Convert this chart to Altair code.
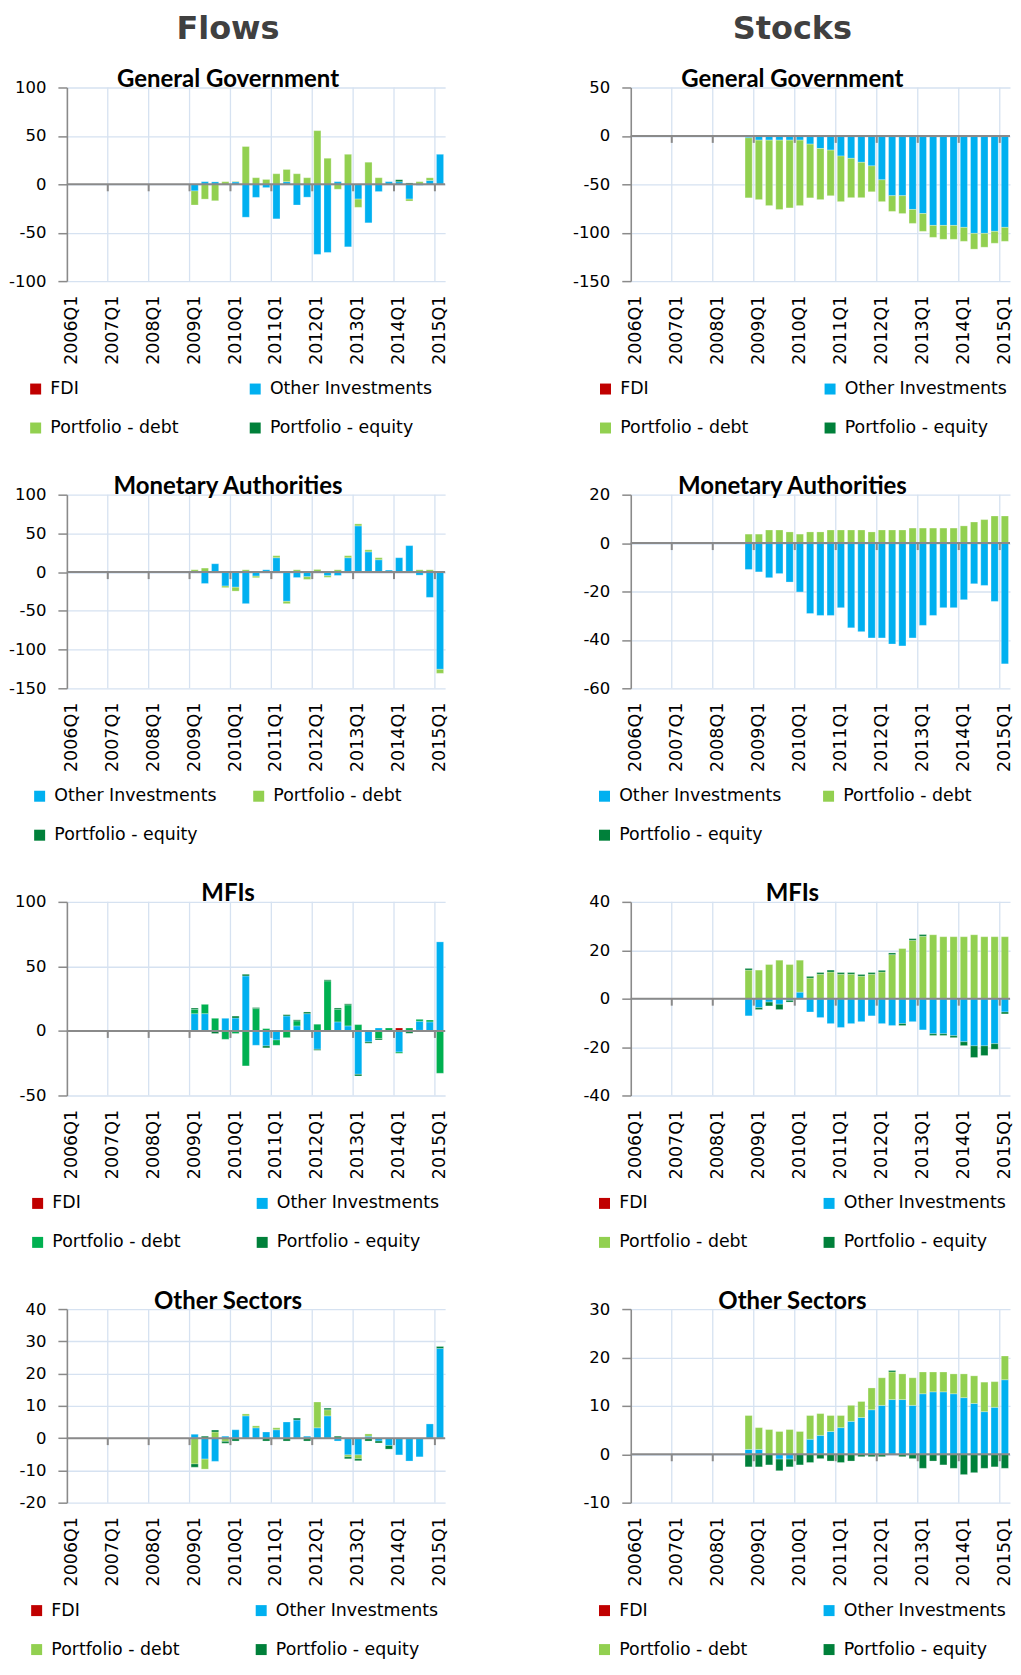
import altair as alt
import pandas as pd

YEARS = [2006, 2007, 2008, 2009, 2010, 2011, 2012, 2013, 2014, 2015]
QUARTERS = [f"{y}Q{q}" for y in YEARS for q in (1, 2, 3, 4)][:37]
YEAR_TICKS = [f"{y}Q1" for y in YEARS]
FLOW_Q = QUARTERS[12:]   # 2009Q1 .. 2015Q1
STOCK_Q = QUARTERS[11:]  # 2008Q4 .. 2015Q1

SERIES = ["FDI", "Other Investments", "Portfolio - debt", "Portfolio - equity"]

# ---------------- Flows ----------------
fl_gg_oi = [-6.8, 2.7, 2.5, 0, 2.5, -34, -13.5, -3.4, -35.7, 2.7, -21.4, -13.3, -72.4, -70.4, 2.7, -64.6, -15.3, -39.8, -7.5, 2.7, 2.7, -15.3, -1, 4, 31]
fl_gg_pd = [-14.6, -15.3, -17, 2.7, 0.5, 39, 6.8, 5, 10.9, 12.6, 10.9, 6.8, 55.4, 26.9, -5.1, 31, -8.5, 22.8, 6.8, 0, 0, -2, 2.7, 2.7, 0]
fl_gg_pe = [0, 0, 0, 0, 0, 0, 0, 0, 0, 0, 0, 0, 0, 0, 0, 0, 0, 0, 0, 0, 2, 1.4, 0, 0, 0]

fl_ma_oi = [0, -14.7, 10.8, -18, -19.5, -40.7, -5.2, 3, 18.6, -37.7, -7, -6, 0, -4.7, -4.3, 18.6, 59.7, 26.2, 16, 2.6, 18.6, 34.2, -3.9, -32.6, -125.5]
fl_ma_pd = [3, 5.2, 0, -2, -5, 3, -2, 0, 2.6, -3, 3, -3.4, 3.4, -2, 3, 2.6, 2.6, 2.6, 2.6, 0, 0, 0, 3, 3, -5.2]

fl_mfi_fdi = [0, 0, 0, 0, 0, 0, 0, 0, 0, 0, 0, 0, 0, 0, 0, 0, 0, 0, 0, 0, 2.3, 0, 0.5, 0, 0]
fl_mfi_oi = [13.4, 13.4, 0, 9.8, 10, 42.6, -11.1, -11.6, -7, 11.6, 3.9, 13.4, -14.2, 0, 7, 3.9, -33.6, -8.5, 2.3, 0, -16.3, 0, 7, 7, 69]
fl_mfi_pd = [3.4, 7.2, 9.8, -6.5, -2, -27.1, 17.3, 1.8, -4.1, -5.2, 3.9, 0, 5.2, 38.8, 9.8, 16.3, 4.9, 0, -6, 2.3, -1, 2.3, 1.5, 1.5, -32.8]
fl_mfi_pe = [1, 0, -2, 0, 1.5, 1.3, 0.8, -1.5, 0, 1, 0.8, 1.3, -0.8, 0.8, 1, 0.8, -1.3, -1, -1, 0, 0, -1.8, 0, 0, 0]

fl_os_oi = [1.2, -6.5, -7.2, 0.6, 2.6, 6.9, 3.2, 1.9, 2.6, 5, 5.6, 0.6, 3.2, 6.9, -0.9, -5.2, -5.2, 0.6, -0.9, -2.3, -5.2, -7.1, -5.8, 4.4, 27.8]
fl_os_pd = [-8, -3.1, 1.9, -1, 0, 0.6, 0.6, 0, 0.6, 0, 0, 0, 8, 1.9, 0, -0.6, -1.2, 0.7, 0, 0, 0, 0, 0, 0, 0]
fl_os_pe = [-1, 0.6, 0.6, -0.6, -0.9, 0, 0, -0.9, 0, -0.9, 0.6, -0.9, 0, 0.5, 0.6, -0.6, -0.6, -0.9, -0.6, -1.1, 0, 0, 0, 0, 0.6]

# ---------------- Stocks ----------------
st_gg_oi = [-2, -4.4, -4.4, -4.4, -4.4, -4.4, -8.5, -13, -14.7, -20.8, -23.2, -27.3, -31, -45.4, -61.8, -61.8, -76, -80.2, -92.5, -92.5, -92.5, -94.5, -100.7, -100.7, -98.6, -94.5]
st_gg_pd = [-62, -61.4, -67.6, -71.6, -70, -67.6, -55.5, -52.8, -47.1, -47.1, -40.6, -36.5, -26.7, -22.5, -16.2, -18.4, -14.4, -18.4, -12.3, -14.3, -14.3, -14.4, -16.3, -14.3, -12.3, -14.4]
st_gg_pe = [0, 0, 0, 0, 0, 0, 0, 0, 0, 0, 0, 0, 0, 0, 0, 0, 0, 0, 0, 0, 0.5, 0, 0, 0, 0, 0.5]

st_ma_oi = [-10.9, -11.9, -14.3, -12.6, -16.1, -20.2, -29.1, -29.9, -29.9, -26.7, -35, -36.6, -39.2, -39.2, -41.7, -42.5, -39.2, -34, -29.9, -26.7, -26.7, -23.4, -16.8, -17.5, -24.1, -49.9]
st_ma_pd = [3.7, 3.7, 5.4, 5.4, 4.6, 3.7, 4.6, 4.6, 5.4, 5.4, 5.4, 5.4, 4.6, 5.4, 5.4, 5.4, 6.2, 6.2, 6.2, 6.2, 6.2, 7.1, 8.7, 9.7, 11.2, 11.2]

st_mfi_oi = [-7.1, -3.7, -1.4, -2.3, -0.7, 2.7, -5.5, -7.8, -10.3, -11.9, -10.3, -9.5, -7.1, -10.3, -11.1, -10.3, -9.5, -12.9, -14.5, -14.5, -15.3, -17.8, -19.5, -19.5, -18.6, -5.5]
st_mfi_pd = [11.8, 11.8, 14.1, 15.9, 14.1, 13.2, 8.5, 10.1, 11, 10.1, 10.1, 9.3, 10.1, 11, 18.2, 20.7, 24.1, 25.8, 26.4, 25.6, 25.6, 25.6, 26.4, 25.6, 25.6, 25.6]
st_mfi_pe = [0.7, -0.8, -1.6, -2.2, -0.7, 0, 0.7, 0.7, 0.8, 0.7, 0.7, 0.7, 0.7, 0.7, 0.7, -0.8, 0.7, 0.7, -0.7, -0.7, -0.8, -1.6, -4.8, -4, -2.3, -0.8]

st_os_oi = [1, 1, 0, -1, -1, 0, 3.1, 3.9, 4.7, 5.5, 6.8, 7.6, 9.2, 10.1, 11.3, 11.3, 10.1, 12.5, 12.9, 12.9, 12.5, 11.7, 10.5, 8.8, 9.7, 15.4]
st_os_pd = [7, 4.5, 5.1, 4.7, 5.1, 4.7, 4.9, 4.5, 3.3, 2.5, 3.3, 3.3, 4.5, 5.7, 5.7, 5.3, 5.7, 4.5, 4.1, 4.1, 4.1, 4.9, 5.7, 6.1, 5.3, 4.9]
st_os_pe = [-2.6, -2.6, -2.2, -2.4, -1.6, -2.2, -1.7, -0.9, -1.4, -1.7, -1.4, -0.5, -0.5, -0.5, 0.3, -0.5, -0.9, -2.9, -1.4, -2.2, -2.9, -4.2, -3.8, -2.9, -2.6, -2.9]

# y tick values per panel
Y_FL_GG = [-100, -50, 0, 50, 100]
Y_FL_MA = [-150, -100, -50, 0, 50, 100]
Y_FL_MFI = [-50, 0, 50, 100]
Y_FL_OS = [-20, -10, 0, 10, 20, 30, 40]
Y_ST_GG = [-150, -100, -50, 0, 50]
Y_ST_MA = [-60, -40, -20, 0, 20]
Y_ST_MFI = [-40, -20, 0, 20, 40]
Y_ST_OS = [-10, 0, 10, 20, 30]

C_FDI = "#C00000"
C_OI = "#00B0F0"
C_PD = "#92D050"
C_PD2 = "#00B050"
C_PE = "#00803A"
GRID = "#D6E2F1"
AX = "#8A8A8A"
FONT = "DejaVu Sans"
H = 194


def panel(title, quarters, data, items, colors, yticks, width, legend_x, col_pad):
    rows = []
    for i, name in enumerate(SERIES):
        if name not in data:
            continue
        for q, v in zip(quarters, data[name]):
            if v != 0:
                rows.append({"q": q, "series": name, "v": v, "o": i})
    df = pd.DataFrame(rows)
    years_df = pd.DataFrame({"q": YEAR_TICKS[1:]})
    zero_df = pd.DataFrame({"z": [0]})

    xscale = alt.Scale(domain=QUARTERS, paddingInner=0, paddingOuter=0)
    xaxis = alt.Axis(values=YEAR_TICKS, grid=False, ticks=False, domain=False,
                     labelAngle=270, labelFont=FONT, labelFontSize=17.5,
                     labelColor="#000000", labelPadding=14, labelOverlap=False,
                     title=None)
    yscale = alt.Scale(domain=[yticks[0], yticks[-1]], nice=False, zero=False)
    yaxis = alt.Axis(values=yticks, tickCount=20, grid=True, gridColor=GRID, gridWidth=1.3,
                     domainColor=AX, domainWidth=1.6, tickColor=AX, tickSize=9,
                     tickWidth=1.5, labelFont=FONT, labelFontSize=16.5,
                     labelColor="#000000", labelPadding=12, labelOverlap=False,
                     labelExpr="toString(datum.value)",
                     title=None, minExtent=59, maxExtent=59)

    x_band = alt.X("q:N", scale=xscale, axis=xaxis)
    x_edge = alt.X("q:N", scale=xscale, axis=xaxis, bandPosition=0)

    vgrid = alt.Chart(years_df).mark_rule(color=GRID, strokeWidth=1.3).encode(x=x_edge)
    bars = alt.Chart(df).mark_bar(
        width=alt.RelativeBandSize(0.7), stroke="white", strokeWidth=0.6, strokeOpacity=0.45
    ).encode(
        x=x_band,
        y=alt.Y("v:Q", stack="zero", scale=yscale, axis=yaxis),
        color=alt.Color(
            "series:N",
            scale=alt.Scale(domain=items, range=colors),
            legend=alt.Legend(
                title=None, orient="none", legendX=legend_x, legendY=293,
                columns=2, columnPadding=col_pad, rowPadding=20.5, padding=0,
                symbolType="square", symbolSize=121, symbolStrokeWidth=0,
                symbolOpacity=1, labelFont=FONT, labelFontSize=17.4,
                labelColor="#000000", labelOffset=6, labelLimit=400,
            ),
        ),
        order=alt.Order("o:Q", sort="ascending"),
    )
    zero = alt.Chart(zero_df).mark_rule(color=AX, strokeWidth=2).encode(y=alt.datum(0))
    ticks = alt.Chart(years_df).mark_rule(color=AX, strokeWidth=2, y2Offset=7).encode(
        x=x_edge, y=alt.datum(0), y2=alt.datum(0)
    )
    return alt.layer(vgrid, bars, zero, ticks).properties(
        width=width, height=H,
        title=alt.Title(title, font="Lato", fontSize=24, fontWeight="bold",
                        color="#000000", anchor="middle", frame="bounds", offset=-12.5),
    )


# legend entries fill column by column: order chosen so rows read
# "FDI | Other Investments" / "Portfolio - debt | Portfolio - equity"
L4 = ["FDI", "Portfolio - debt", "Other Investments", "Portfolio - equity"]
L4C = [C_FDI, C_PD, C_OI, C_PE]
L4C_MFI = [C_FDI, C_PD2, C_OI, C_PE]
L3 = ["Other Investments", "Portfolio - equity", "Portfolio - debt"]
L3C = [C_OI, C_PE, C_PD]
WF, WS = 379, 380

f1 = panel("General Government", FLOW_Q,
           {"Other Investments": fl_gg_oi, "Portfolio - debt": fl_gg_pd, "Portfolio - equity": fl_gg_pe},
           L4, L4C, Y_FL_GG, WF, -40, 68)
f2 = panel("Monetary Authorities", FLOW_Q,
           {"Other Investments": fl_ma_oi, "Portfolio - debt": fl_ma_pd},
           L3, L3C, Y_FL_MA, WF, -36, 33.5)
f3 = panel("MFIs", FLOW_Q,
           {"FDI": fl_mfi_fdi, "Other Investments": fl_mfi_oi, "Portfolio - debt": fl_mfi_pd, "Portfolio - equity": fl_mfi_pe},
           L4, L4C_MFI, Y_FL_MFI, WF, -38, 73)
f4 = panel("Other Sectors", FLOW_Q,
           {"Other Investments": fl_os_oi, "Portfolio - debt": fl_os_pd, "Portfolio - equity": fl_os_pe},
           L4, L4C, Y_FL_OS, WF, -39, 73)

s1 = panel("General Government", STOCK_Q,
           {"Other Investments": st_gg_oi, "Portfolio - debt": st_gg_pd, "Portfolio - equity": st_gg_pe},
           L4, L4C, Y_ST_GG, WS, -34, 73)
s2 = panel("Monetary Authorities", STOCK_Q,
           {"Other Investments": st_ma_oi, "Portfolio - debt": st_ma_pd},
           L3, L3C, Y_ST_MA, WS, -35, 38.5)
s3 = panel("MFIs", STOCK_Q,
           {"Other Investments": st_mfi_oi, "Portfolio - debt": st_mfi_pd, "Portfolio - equity": st_mfi_pe},
           L4, L4C, Y_ST_MFI, WS, -35, 73)
s4 = panel("Other Sectors", STOCK_Q,
           {"Other Investments": st_os_oi, "Portfolio - debt": st_os_pd, "Portfolio - equity": st_os_pe},
           L4, L4C, Y_ST_OS, WS, -35, 73)

COLTITLE = dict(font=FONT, fontSize=32, fontWeight="bold", color="#404040", anchor="middle", offset=22)

col1 = alt.vconcat(f1, f2, f3, f4, spacing=38,
                   title=alt.Title("Flows", **COLTITLE)).resolve_scale(color="independent")
col2 = alt.vconcat(s1, s2, s3, s4, spacing=38,
                   title=alt.Title("Stocks", **COLTITLE)).resolve_scale(color="independent")

chart = alt.hconcat(col1, col2, spacing=124).resolve_scale(color="independent").properties(
    padding={"left": 0, "top": 3, "right": 0, "bottom": 0}
).configure_view(stroke=None)

chart.save("out.html", embed_options={"renderer": "svg", "actions": False})
